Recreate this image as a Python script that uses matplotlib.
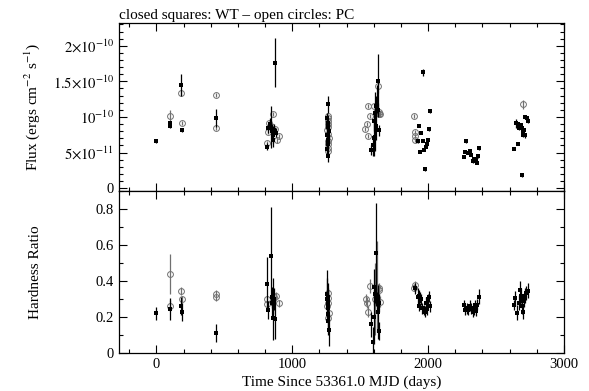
import numpy as np
import matplotlib
matplotlib.use("Agg")
import matplotlib.pyplot as plt
from matplotlib.ticker import FixedLocator, FixedFormatter, MultipleLocator

plt.rcParams["font.family"] = ["Liberation Serif", "DejaVu Serif"]
plt.rcParams["mathtext.fontset"] = "stix"

# ── data (flux in units of 1e-10 erg/cm2/s) ───────────────────────────────────
flux_wt_t = [0, 101, 104, 180, 187, 440,
             815, 820, 835, 845, 850, 855, 860, 865, 872, 878,
             1262, 1258, 1265, 1260, 1268, 1255, 1263, 1266, 1259, 1264,
             1579, 1595, 1603, 1605, 1610, 1612, 1615, 1620, 1623, 1628, 1633, 1642,
             1964, 2011, 1930, 1947, 2006, 1922, 1959, 1998, 1988, 1981, 1971, 1937, 1976,
             2278, 2268, 2305, 2290, 2261, 2376, 2364, 2340, 2327, 2358, 2318, 2352,
             2649, 2658, 2673, 2680, 2690, 2703, 2700, 2710, 2715, 2724, 2732, 2659,
             2629, 2690, 2666, 2695]
flux_wt = [0.66, 0.91, 0.88, 1.45, 0.82, 0.985,
           0.58, 0.84, 0.90, 0.86, 0.80, 0.75, 0.68, 0.82, 1.765, 0.78,
           1.18, 0.98, 0.92, 0.86, 0.80, 0.74, 0.68, 0.62, 0.55, 0.45,
           0.53, 0.60, 0.95, 0.70, 1.05, 0.72, 1.15, 0.88, 1.25, 1.10, 1.50, 0.81,
           1.63, 1.08, 0.873, 0.775, 0.826, 0.658, 0.668, 0.68, 0.616, 0.58, 0.54, 0.51, 0.266,
           0.66, 0.51, 0.52, 0.50, 0.44, 0.56, 0.45, 0.41, 0.38, 0.36, 0.47, 0.39,
           0.91, 0.90, 0.87, 0.89, 0.84, 0.82, 0.75, 0.74, 1.00, 0.98, 0.95, 0.62,
           0.55, 0.18, 0.85, 0.80]
flux_wt_err = [0.03, 0.03, 0.03, 0.16, 0.03, 0.13,
               0.05, 0.06, 0.08, 0.30, 0.10, 0.12, 0.10, 0.08, 0.34, 0.06,
               0.12, 0.08, 0.10, 0.10, 0.12, 0.10, 0.08, 0.10, 0.08, 0.08,
               0.07, 0.15, 0.15, 0.25, 0.30, 0.20, 0.15, 0.20, 0.20, 0.10, 0.38, 0.08,
               0.05, 0.02, 0.02, 0.02, 0.02, 0.02, 0.02, 0.02, 0.02, 0.02, 0.02, 0.02, 0.02,
               0.02, 0.02, 0.02, 0.02, 0.02, 0.02, 0.02, 0.02, 0.02, 0.02, 0.02, 0.02,
               0.06, 0.03, 0.03, 0.03, 0.03, 0.03, 0.03, 0.03, 0.03, 0.03, 0.03, 0.02,
               0.02, 0.02, 0.03, 0.03]

flux_pc_t = [101, 180, 187, 440, 440,
             813, 820, 832, 857, 876, 906, 886, 845,
             1260, 1262, 1264, 1261, 1266, 1259, 1263, 1267, 1262, 1265, 1260, 1266,
             1554, 1598, 1574, 1549, 1539, 1561, 1630, 1647, 1638, 1642,
             1893, 1907, 1905, 1902,
             2695]
flux_pc = [1.01, 1.335, 0.92, 1.31, 0.85,
           0.63, 0.79, 0.92, 1.046, 0.836, 0.728, 0.67, 0.88,
           1.02, 0.98, 0.94, 0.90, 0.86, 0.82, 0.76, 0.70, 0.66, 0.62, 0.56, 0.52,
           1.15, 1.15, 1.01, 0.906, 0.826, 0.728, 1.43, 1.046, 1.07, 1.04,
           1.01, 0.784, 0.68, 0.73,
           1.176]
flux_pc_err = [0.09, 0.03, 0.03, 0.03, 0.03,
               0.03, 0.03, 0.03, 0.03, 0.03, 0.03, 0.03, 0.03,
               0.02, 0.02, 0.02, 0.02, 0.02, 0.02, 0.02, 0.02, 0.02, 0.02, 0.02, 0.02,
               0.03, 0.03, 0.03, 0.03, 0.03, 0.03, 0.10, 0.04, 0.04, 0.04,
               0.03, 0.03, 0.03, 0.03,
               0.06]

hr_wt_t = [0, 104, 182, 186, 440,
           817, 842, 820, 848, 852, 857, 862, 874, 866,
           1258, 1262, 1260, 1264, 1261, 1266, 1263, 1265, 1267, 1259,
           1579, 1594, 1618, 1602, 1610, 1615, 1622, 1636, 1642, 1628, 1605,
           1902, 1922, 1930, 1940, 1950, 1934, 1955, 1971, 1978, 1990, 2011, 1998, 1985, 2006,
           2261, 2273, 2285, 2305, 2318, 2330, 2340, 2342, 2360, 2376, 2354, 2295,
           2629, 2641, 2653, 2665, 2673, 2680, 2693, 2697, 2703, 2710, 2723, 2732, 2688]
hr_wt = [0.222, 0.244, 0.263, 0.228, 0.111,
         0.383, 0.539, 0.24, 0.28, 0.31, 0.194, 0.32, 0.189, 0.30,
         0.33, 0.31, 0.29, 0.28, 0.27, 0.25, 0.22, 0.18, 0.13, 0.30,
         0.161, 0.065, 0.555, 0.37, 0.33, 0.31, 0.29, 0.28, 0.124, 0.23, 0.20,
         0.36, 0.314, 0.32, 0.31, 0.30, 0.265, 0.25, 0.24, 0.23, 0.245, 0.26, 0.30, 0.28, 0.315,
         0.268, 0.24, 0.25, 0.263, 0.25, 0.231, 0.24, 0.268, 0.27, 0.314, 0.235, 0.24,
         0.268, 0.305, 0.226, 0.281, 0.35, 0.32, 0.26, 0.23, 0.296, 0.32, 0.333, 0.348, 0.29]
hr_wt_err = [0.035, 0.06, 0.05, 0.05, 0.05,
             0.15, 0.27, 0.05, 0.08, 0.06, 0.12, 0.10, 0.11, 0.06,
             0.13, 0.08, 0.06, 0.08, 0.06, 0.08, 0.08, 0.08, 0.09, 0.12,
             0.07, 0.08, 0.28, 0.10, 0.05, 0.05, 0.05, 0.05, 0.05, 0.15, 0.15,
             0.03, 0.05, 0.03, 0.03, 0.03, 0.03, 0.03, 0.03, 0.03, 0.03, 0.03, 0.03, 0.03, 0.03,
             0.03, 0.03, 0.03, 0.03, 0.03, 0.03, 0.03, 0.03, 0.03, 0.04, 0.03, 0.03,
             0.03, 0.04, 0.04, 0.04, 0.05, 0.04, 0.04, 0.04, 0.04, 0.04, 0.04, 0.04, 0.04]

hr_pc_t = [101, 101, 180, 187, 440, 440,
           817, 817, 866, 906, 880, 857,
           1262, 1266, 1260, 1268, 1264, 1258,
           1569, 1540, 1548, 1561, 1642, 1647, 1635, 1625, 1610,
           1898, 1902]
hr_pc = [0.439, 0.263, 0.346, 0.30, 0.33, 0.31,
         0.30, 0.272, 0.314, 0.278, 0.32, 0.30,
         0.333, 0.305, 0.28, 0.222, 0.194, 0.26,
         0.374, 0.30, 0.28, 0.231, 0.35, 0.287, 0.36, 0.37, 0.30,
         0.364, 0.38]
hr_pc_err = [0.11, 0.03, 0.02, 0.02, 0.02, 0.02,
             0.02, 0.02, 0.02, 0.02, 0.02, 0.02,
             0.02, 0.02, 0.02, 0.02, 0.02, 0.02,
             0.04, 0.03, 0.03, 0.03, 0.03, 0.03, 0.03, 0.25, 0.20,
             0.02, 0.02]

# ── figure ────────────────────────────────────────────────────────────────────
fig = plt.figure(figsize=(5.89, 3.91), dpi=100)
ax1 = fig.add_axes([0.202, 0.5115, 0.7556, 0.4297])
ax2 = fig.add_axes([0.202, 0.0964, 0.7556, 0.4151], sharex=ax1)

wt_style = dict(fmt="s", color="black", ms=2.8, mew=0, elinewidth=0.9, capsize=0, zorder=3)
pc_style = dict(fmt="o", color="#707070", mfc="none", mec="#707070", ms=4.2, mew=0.7,
                elinewidth=0.9, capsize=0, zorder=2)

ax1.errorbar(flux_pc_t, flux_pc, yerr=flux_pc_err, **pc_style)
ax1.errorbar(flux_wt_t, flux_wt, yerr=flux_wt_err, **wt_style)
ax2.errorbar(hr_pc_t, hr_pc, yerr=hr_pc_err, **pc_style)
ax2.errorbar(hr_wt_t, hr_wt, yerr=hr_wt_err, **wt_style)

ax1.set_xlim(-275, 3000)
ax1.set_ylim(-0.04, 2.32)
ax2.set_ylim(0, 0.9)

ax1.yaxis.set_major_locator(FixedLocator([0, 0.5, 1.0, 1.5, 2.0]))
ax1.yaxis.set_major_formatter(FixedFormatter(
    ["0", r"$5{\times}10^{-11}$", r"$10^{-10}$", r"$1.5{\times}10^{-10}$", r"$2{\times}10^{-10}$"]))
ax1.yaxis.set_minor_locator(MultipleLocator(0.1))
ax2.yaxis.set_major_locator(FixedLocator([0, 0.2, 0.4, 0.6, 0.8]))
ax2.yaxis.set_major_formatter(FixedFormatter(["0", "0.2", "0.4", "0.6", "0.8"]))
ax2.yaxis.set_minor_locator(MultipleLocator(0.1))
ax2.xaxis.set_major_locator(MultipleLocator(1000))
ax2.xaxis.set_minor_locator(MultipleLocator(200))

for ax in (ax1, ax2):
    ax.tick_params(which="both", direction="in", top=True, right=True, labelsize=10.5, width=0.8)
    ax.tick_params(which="major", length=6)
    ax.tick_params(which="minor", length=3)
    for s in ax.spines.values():
        s.set_linewidth(0.9)
ax1.tick_params(labelbottom=False)

ax1.set_ylabel(r"Flux (ergs cm$^{-2}$ s$^{-1}$)", fontsize=11)
ax2.set_ylabel("Hardness Ratio", fontsize=11)
ax1.yaxis.set_label_coords(-0.172, 0.5)
ax2.yaxis.set_label_coords(-0.172, 0.5)
ax2.set_xlabel("Time Since 53361.0 MJD (days)", fontsize=11, labelpad=3)
ax1.set_title("closed squares: WT \u2013 open circles: PC", fontsize=11, loc="left", pad=3)

fig.savefig("out.png", dpi=100)
